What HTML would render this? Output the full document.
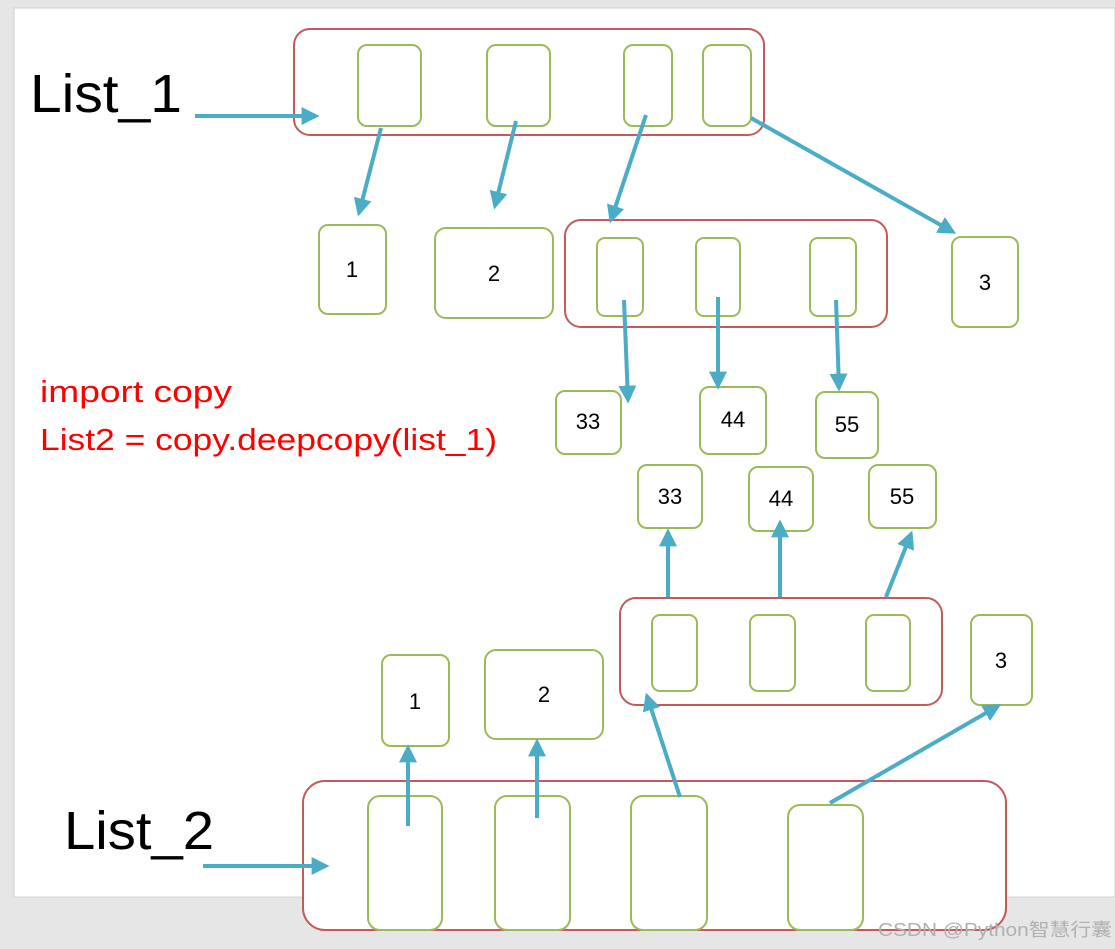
<!DOCTYPE html>
<html><head><meta charset="utf-8"><style>
html,body{margin:0;padding:0;width:1115px;height:949px;overflow:hidden;background:#e6e6e6}
svg{display:block}
</style></head><body>
<svg width="1115" height="949" viewBox="0 0 1115 949" xmlns="http://www.w3.org/2000/svg">
<defs>
<marker id="ah" viewBox="0 0 10 10" refX="8" refY="5" markerWidth="4.5" markerHeight="4.5" orient="auto"><path d="M0,0 L10,5 L0,10 z" fill="#4bacc6"/></marker>
</defs>
<rect x="14" y="8" width="1101" height="889" fill="#fff" stroke="#d0d0d0"/>
<g fill="none" stroke-width="2">
<g stroke="#c55a5a">
<rect x="294" y="29" width="470" height="106" rx="16"/>
<rect x="565" y="220" width="322" height="107" rx="16"/>
<rect x="620" y="598" width="322" height="107" rx="16"/>
<rect x="303" y="781" width="703" height="149" rx="22" fill="#fff"/>
</g>
<g stroke="#9bbb59">
<rect x="358" y="45" width="63" height="81" rx="9"/>
<rect x="487" y="45" width="63" height="81" rx="9"/>
<rect x="624" y="45" width="48" height="81" rx="9"/>
<rect x="703" y="45" width="48" height="81" rx="9"/>
<rect x="319" y="225" width="67" height="89" rx="9"/>
<rect x="435" y="228" width="118" height="90" rx="11"/>
<rect x="597" y="238" width="46" height="78" rx="8"/>
<rect x="696" y="238" width="44" height="78" rx="8"/>
<rect x="810" y="238" width="46" height="78" rx="8"/>
<rect x="952" y="237" width="66" height="90" rx="9"/>
<rect x="556" y="391" width="65" height="63" rx="9"/>
<rect x="700" y="387" width="66" height="67" rx="9"/>
<rect x="816" y="392" width="62" height="66" rx="9"/>
<rect x="638" y="465" width="64" height="63" rx="9"/>
<rect x="749" y="467" width="64" height="64" rx="9"/>
<rect x="869" y="465" width="67" height="63" rx="9"/>
<rect x="652" y="615" width="45" height="76" rx="8"/>
<rect x="750" y="615" width="45" height="76" rx="8"/>
<rect x="866" y="615" width="44" height="76" rx="8"/>
<rect x="382" y="655" width="67" height="91" rx="9"/>
<rect x="485" y="650" width="118" height="89" rx="11"/>
<rect x="971" y="615" width="61" height="90" rx="9"/>
<rect x="368" y="796" width="74" height="134" rx="12"/>
<rect x="495" y="796" width="75" height="134" rx="12"/>
<rect x="631" y="796" width="76" height="134" rx="12"/>
<rect x="788" y="805" width="75" height="125" rx="12"/>
</g>
<g stroke="#4bacc6" stroke-width="4" marker-end="url(#ah)">
<line x1="195" y1="116" x2="316" y2="116"/>
<line x1="381" y1="128" x2="359" y2="213"/>
<line x1="516" y1="121" x2="495" y2="206"/>
<line x1="646" y1="115" x2="611" y2="220"/>
<line x1="751" y1="118" x2="953" y2="232"/>
<line x1="624" y1="300" x2="628" y2="400"/>
<line x1="718" y1="297" x2="718" y2="386"/>
<line x1="836" y1="300" x2="839" y2="388"/>
<line x1="668" y1="597" x2="668" y2="532"/>
<line x1="780" y1="597" x2="780" y2="523"/>
<line x1="886" y1="597" x2="911" y2="534"/>
<line x1="408" y1="826" x2="408" y2="748"/>
<line x1="537" y1="818" x2="537" y2="742"/>
<line x1="680" y1="797" x2="647" y2="696"/>
<line x1="830" y1="803" x2="998" y2="706"/>
<line x1="203" y1="866" x2="326" y2="866"/>
</g>
</g>
<g font-family="Liberation Sans, sans-serif" fill="#000" text-anchor="middle" font-size="22">
<text x="352" y="277">1</text>
<text x="494" y="281">2</text>
<text x="985" y="290">3</text>
<text x="588" y="429">33</text>
<text x="733" y="427">44</text>
<text x="847" y="432">55</text>
<text x="670" y="504">33</text>
<text x="781" y="506">44</text>
<text x="902" y="504">55</text>
<text x="415" y="709">1</text>
<text x="544" y="702">2</text>
<text x="1001" y="668">3</text>
</g>
<g font-family="Liberation Sans, sans-serif" fill="#000" font-size="54">
<text x="30" y="112" textLength="152" lengthAdjust="spacingAndGlyphs">List_1</text>
<text x="64" y="849" textLength="150" lengthAdjust="spacingAndGlyphs">List_2</text>
</g>
<g font-family="Liberation Sans, sans-serif" fill="#ff0000" font-size="31">
<text x="40" y="402" textLength="192" lengthAdjust="spacingAndGlyphs">import copy</text>
<text x="40" y="450" textLength="457" lengthAdjust="spacingAndGlyphs">List2 = copy.deepcopy(list_1)</text>
</g>
<text x="878" y="936" font-family="Liberation Sans, Noto Sans CJK SC, sans-serif" font-size="18" fill="#b0b0b0" textLength="234" lengthAdjust="spacingAndGlyphs">CSDN @Python智慧行囊</text>
</svg>
</body></html>
